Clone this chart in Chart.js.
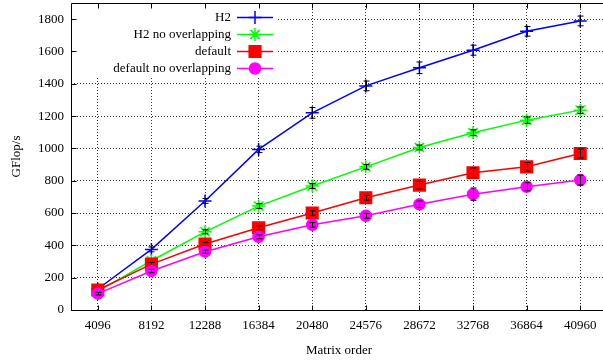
<!DOCTYPE html>
<html>
<head>
<meta charset="utf-8">
<script src="https://cdn.jsdelivr.net/npm/chart.js@4/dist/chart.umd.min.js"></script>
<style>
  html, body { margin: 0; padding: 0; background: #fff; }
  #wrap { width: 603px; height: 362px; overflow: hidden; position: relative; }
  canvas { display: block; }
</style>
</head>
<body>
<div id="wrap"><canvas id="c" width="607" height="362"></canvas></div>
<script>
// Matrix orders on the x axis
const matrixOrders = [4096, 8192, 12288, 16384, 20480, 24576, 28672, 32768, 36864, 40960];
// Y tick values (GFlop/s)
const yTickValues = [0, 200, 400, 600, 800, 1000, 1200, 1400, 1600, 1800];

// Series labels
const seriesLabels = ['H2', 'H2 no overlapping', 'default', 'default no overlapping'];

// Measured performance (GFlop/s)
const h2 = [130, 375, 675, 994, 1220, 1387, 1499, 1608, 1725, 1789];
const h2NoOverlap = [115, 305, 484, 643, 767, 886, 1006, 1097, 1175, 1237];
const defaultRun = [124, 284, 408, 509, 600, 695, 773, 849, 886, 969];
const defaultNoOverlap = [101, 241, 361, 453, 527, 583, 654, 717, 763, 804];

// Error half-widths (GFlop/s)
const h2Err = [10, 15, 15, 20, 33, 30, 36, 31, 30, 30];
const h2NoOverlapErr = [8, 10, 12, 15, 15, 15, 15, 18, 20, 20];
const defaultErr = [8, 10, 10, 12, 14, 15, 24, 30, 27, 28];
const defaultNoOverlapErr = [8, 10, 10, 12, 14, 15, 20, 38, 25, 31];

const FONT = "'Liberation Serif', 'Times New Roman', serif";

function pts(values) {
  return matrixOrders.map((x, i) => ({ x: x, y: values[i] }));
}

function series(label, values, errs, color, style, radius, order) {
  return {
    label: label,
    data: pts(values),
    errors: errs,
    borderColor: color,
    backgroundColor: color,
    borderWidth: 1.5,
    pointStyle: style,
    pointRadius: radius,
    pointHoverRadius: radius,
    pointBorderWidth: 1.5,
    pointBorderColor: color,
    pointBackgroundColor: color,
    tension: 0,
    clip: false,
    order: order
  };
}

const datasets = [
  series(seriesLabels[0], h2, h2Err, '#0000ff', 'cross', 6.5, 3),
  series(seriesLabels[1], h2NoOverlap, h2NoOverlapErr, '#00ff00', 'star', 6.5, 2),
  series(seriesLabels[2], defaultRun, defaultErr, '#ff0000', 'rect', 8.2, 1),
  series(seriesLabels[3], defaultNoOverlap, defaultNoOverlapErr, '#ff00ff', 'circle', 5.5, 0)
];

// Key box geometry (top-left, inside the plot)
const KEY = { x0: 72, y0: 4, x1: 277, y1: 76, textRight: 231, lineX0: 237, lineX1: 273, rowY: [17, 34, 51, 68] };

const errorBars = {
  id: 'errorBars',
  afterDatasetDraw(chart, args) {
    const ds = chart.data.datasets[args.index];
    if (!ds.errors) return;
    const ctx = chart.ctx;
    const xs = chart.scales.x, ys = chart.scales.y;
    ctx.save();
    ctx.strokeStyle = '#000';
    ctx.lineWidth = 1;
    ds.data.forEach((p, i) => {
      const e = ds.errors[i];
      const px = Math.round(xs.getPixelForValue(p.x)) + 0.5;
      const yTop = ys.getPixelForValue(p.y + e);
      const yBot = ys.getPixelForValue(p.y - e);
      ctx.beginPath();
      ctx.moveTo(px, yTop); ctx.lineTo(px, yBot);
      ctx.moveTo(px - 3, yTop); ctx.lineTo(px + 3, yTop);
      ctx.moveTo(px - 3, yBot); ctx.lineTo(px + 3, yBot);
      ctx.stroke();
    });
    ctx.restore();
  }
};

const keyAndFrame = {
  id: 'keyAndFrame',
  beforeDatasetsDraw(chart) {
    const ctx = chart.ctx;
    ctx.save();
    ctx.fillStyle = '#fff';
    ctx.fillRect(KEY.x0, KEY.y0, KEY.x1 - KEY.x0, KEY.y1 - KEY.y0);
    ctx.restore();
  },
  afterDraw(chart) {
    const ctx = chart.ctx;
    const a = chart.chartArea;
    const xs = chart.scales.x, ys = chart.scales.y;
    ctx.save();
    // frame
    ctx.strokeStyle = '#000';
    ctx.lineWidth = 1;
    const L = Math.round(a.left) + 0.5, T = Math.round(a.top) + 0.5;
    const B = Math.round(a.bottom) + 0.5, R = Math.round(a.right) - 0.5;
    ctx.beginPath();
    ctx.moveTo(L, T); ctx.lineTo(R, T);
    ctx.moveTo(L, T); ctx.lineTo(L, B);
    ctx.moveTo(L, B); ctx.lineTo(R, B);
    ctx.moveTo(R, T); ctx.lineTo(R, B);
    ctx.stroke();
    // inward tick marks
    ctx.beginPath();
    yTickValues.forEach(v => {
      const py = Math.round(ys.getPixelForValue(v)) + 0.5;
      ctx.moveTo(L, py); ctx.lineTo(L + 5, py);
    });
    matrixOrders.forEach(v => {
      const px = Math.round(xs.getPixelForValue(v)) + 0.5;
      ctx.moveTo(px, B); ctx.lineTo(px, B - 5);
      ctx.moveTo(px, T); ctx.lineTo(px, T + 5);
    });
    ctx.stroke();

    // key
    ctx.font = '13px ' + FONT;
    ctx.textAlign = 'right';
    ctx.textBaseline = 'middle';
    chart.data.datasets.forEach((ds, i) => {
      const y = KEY.rowY[i];
      ctx.fillStyle = '#000';
      ctx.fillText(ds.label, KEY.textRight, y + 0.5);
      ctx.strokeStyle = ds.borderColor;
      ctx.lineWidth = ds.borderWidth;
      ctx.beginPath();
      ctx.moveTo(KEY.lineX0, y + 0.5); ctx.lineTo(KEY.lineX1, y + 0.5);
      ctx.stroke();
      ctx.fillStyle = ds.pointBackgroundColor;
      ctx.strokeStyle = ds.pointBorderColor;
      ctx.lineWidth = ds.pointBorderWidth;
      Chart.helpers.drawPoint(ctx, {
        pointStyle: ds.pointStyle,
        radius: ds.pointRadius,
        rotation: 0,
        borderWidth: ds.pointBorderWidth
      }, (KEY.lineX0 + KEY.lineX1) / 2, y + 0.5);
    });
    ctx.restore();
  }
};

new Chart(document.getElementById('c'), {
  type: 'line',
  data: { datasets: datasets },
  options: {
    responsive: false,
    animation: false,
    events: [],
    layout: { autoPadding: false, padding: { top: 3, right: 0, bottom: 0, left: 0 } },
    plugins: {
      legend: { display: false },
      tooltip: { enabled: false },
      title: { display: false }
    },
    scales: {
      x: {
        type: 'linear',
        min: 2048,
        max: 43008,
        afterBuildTicks(scale) { scale.ticks = matrixOrders.map(v => ({ value: v })); },
        afterFit(scale) {
          scale.height = 52;
          scale.paddingLeft = 0; scale.paddingRight = 0;
          scale.paddingTop = 0; scale.paddingBottom = 0;
        },
        grid: { color: 'rgba(0,0,0,0.8)', lineWidth: 1, drawTicks: false },
        border: { display: false, dash: [1, 2] },
        ticks: {
          color: '#000',
          font: { family: FONT, size: 13 },
          padding: 8,
          maxRotation: 0,
          autoSkip: false,
          callback: v => String(v)
        },
        title: {
          display: true,
          text: 'Matrix order',
          color: '#000',
          font: { family: FONT, size: 13 },
          padding: { top: 0, bottom: 4 }
        }
      },
      y: {
        type: 'linear',
        min: 0,
        max: 1900,
        afterBuildTicks(scale) { scale.ticks = yTickValues.map(v => ({ value: v })); },
        afterFit(scale) {
          scale.width = 71;
          scale.paddingLeft = 0; scale.paddingRight = 0;
          scale.paddingTop = 0; scale.paddingBottom = 0;
        },
        grid: { color: 'rgba(0,0,0,0.8)', lineWidth: 1, drawTicks: false },
        border: { display: false, dash: [1, 2] },
        ticks: {
          color: '#000',
          font: { family: FONT, size: 13 },
          padding: 7,
          autoSkip: false,
          callback: v => String(v)
        },
        title: {
          display: true,
          text: 'GFlop/s',
          color: '#000',
          font: { family: FONT, size: 13 },
          padding: { top: 9, bottom: 0 }
        }
      }
    }
  },
  plugins: [errorBars, keyAndFrame]
});
</script>
</body>
</html>
